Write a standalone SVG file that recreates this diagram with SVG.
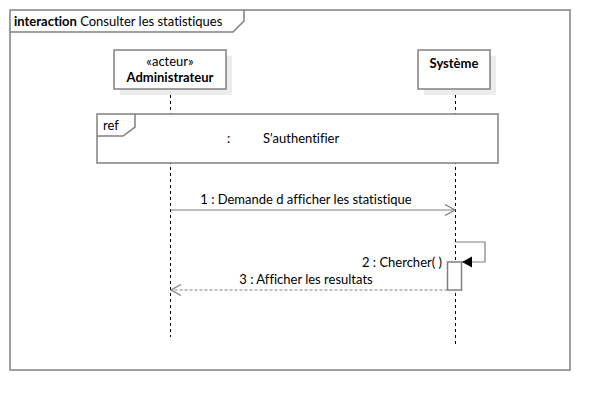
<svg xmlns="http://www.w3.org/2000/svg" width="610" height="410" viewBox="0 0 610 410">
<style>
text{font-family:Lato,"Liberation Sans",sans-serif;font-size:13px;fill:#000;font-variant-ligatures:none}
.b{font-weight:bold}
.frame{fill:none;stroke:#808080;stroke-width:1.5}
.box{fill:#fff;stroke:#808080;stroke-width:1.5}
.shadow{fill:#ececec;stroke:none}
.life{stroke:#000;stroke-width:1;stroke-dasharray:3,3;fill:none}
.msg{stroke:#808080;stroke-width:1.2;fill:none}
.ret{stroke:#808080;stroke-width:1.2;fill:none;stroke-dasharray:3,2}
</style>
<defs>
<marker id="open" viewBox="0 0 12 12" refX="11" refY="6" markerWidth="12" markerHeight="12" markerUnits="userSpaceOnUse" orient="auto">
<path d="M1,0.5 L11,6 L1,11.5" fill="none" stroke="#808080" stroke-width="1.2"/>
</marker>
<marker id="filled" viewBox="0 0 12 12" refX="11" refY="6" markerWidth="12" markerHeight="12" markerUnits="userSpaceOnUse" orient="auto">
<path d="M1,0.5 L11,6 L1,11.5 Z" fill="#000" stroke="none"/>
</marker>
</defs>
<rect width="610" height="410" fill="#fff"/>
<g id="frame">
<rect class="frame" x="10" y="10" width="560" height="360"/>
<path class="frame" d="M10,32 L233,32 L244,21 L244,10"/>
<text x="14" y="26"><tspan class="b">interaction</tspan> Consulter les statistiques</text>
</g>
<g id="lifelines">
<line class="life" x1="170.5" y1="89" x2="170.5" y2="337"/>
<line class="life" x1="455.5" y1="89" x2="455.5" y2="345"/>
</g>
<g id="administrateur">
<rect class="shadow" x="120" y="56" width="112" height="39"/>
<rect class="box" x="114" y="50" width="112" height="39"/>
<text x="170" y="66" text-anchor="middle">«acteur»</text>
<text x="170" y="82" text-anchor="middle" class="b">Administrateur</text>
</g>
<g id="systeme">
<rect class="shadow" x="424" y="56" width="72" height="39"/>
<rect class="box" x="418" y="50" width="72" height="39"/>
<text x="454" y="68" text-anchor="middle" class="b">Système</text>
</g>
<g id="ref">
<rect class="box" x="97" y="114" width="401" height="49"/>
<path class="frame" d="M97,136 L123,136 L135,127 L135,114"/>
<text x="103" y="130">ref</text>
<text x="227" y="143">:</text>
<text x="263" y="143">S'authentifier</text>
</g>
<g id="activation">
<rect class="box" x="447.5" y="262" width="14" height="28"/>
</g>
<g id="connectors">
<line class="msg" x1="170.5" y1="210" x2="455" y2="210" marker-end="url(#open)"/>
<text x="306" y="204" text-anchor="middle">1 : Demande d afficher les statistique</text>
<path class="msg" d="M455.5,242 L485,242 L485,262 L462,262" marker-end="url(#filled)"/>
<text x="442" y="267" text-anchor="end">2 : Chercher( )</text>
<line class="ret" x1="447.5" y1="290" x2="171" y2="290" marker-end="url(#open)"/>
<text x="306" y="284" text-anchor="middle">3 : Afficher les resultats</text>
</g>
</svg>
